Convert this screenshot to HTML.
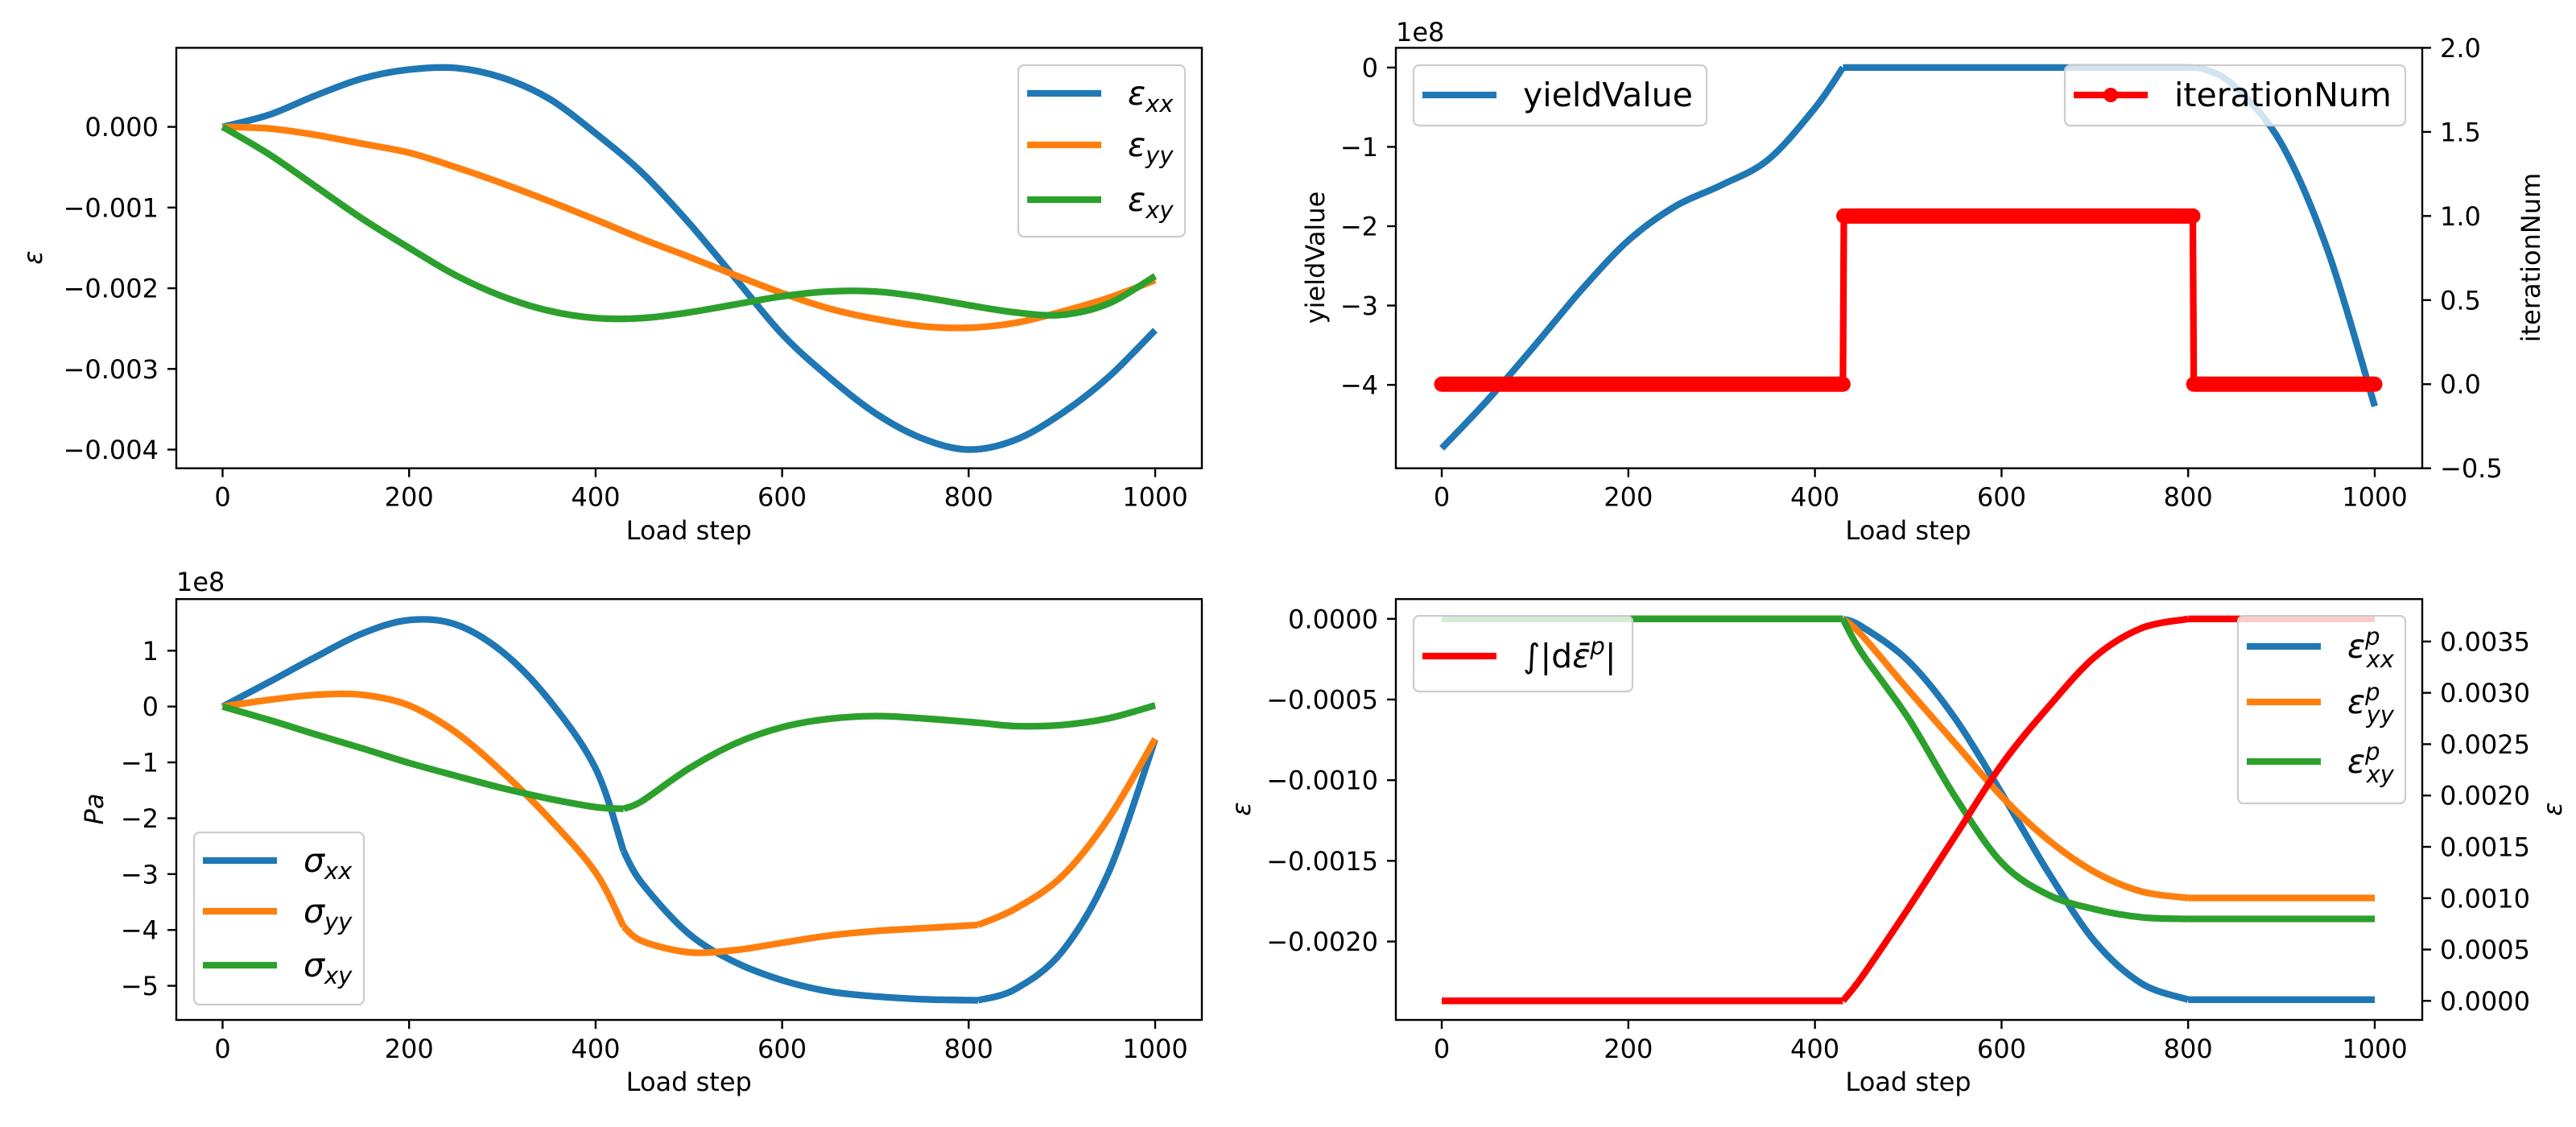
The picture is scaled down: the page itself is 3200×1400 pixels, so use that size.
<!DOCTYPE html>
<html><head><meta charset="utf-8"><style>
html,body{margin:0;padding:0;background:#fff;}
svg{display:block;font-family:"DejaVu Sans","Liberation Sans",sans-serif;}
</style></head><body>
<svg id="fig" width="3200" height="1400" viewBox="0 0 3200 1400" xmlns="http://www.w3.org/2000/svg"></svg>
<script>
// ---------- DATA ----------
const xTicks = [0,200,400,600,800,1000];
// Top-left: strain (units 1e-3)
const tlSteps = [0,50,100,150,200,250,300,350,400,450,500,550,600,650,700,750,800,850,900,950,1000];
const epsXX = [0,0.15,0.39,0.6,0.71,0.73,0.61,0.35,-0.08,-0.57,-1.19,-1.88,-2.57,-3.1,-3.55,-3.86,-4.0,-3.88,-3.55,-3.1,-2.52];
const epsYY = [0,-0.02,-0.1,-0.21,-0.32,-0.5,-0.7,-0.92,-1.15,-1.39,-1.61,-1.84,-2.06,-2.25,-2.38,-2.47,-2.49,-2.43,-2.29,-2.12,-1.9];
const epsXY = [0,-0.34,-0.74,-1.14,-1.5,-1.84,-2.1,-2.28,-2.37,-2.37,-2.3,-2.2,-2.1,-2.04,-2.04,-2.11,-2.21,-2.3,-2.33,-2.19,-1.85];
const tlTicks = [0,-1,-2,-3,-4];
const tlTickLabels = ["0.000","\u22120.001","\u22120.002","\u22120.003","\u22120.004"];
// Top-right: yield value (1e8) and iteration number
const yvSteps = [0,50,100,150,200,250,300,350,400,430,600,800,820,850,900,950,1000];
const yieldVals = [-4.8,-4.18,-3.5,-2.8,-2.18,-1.75,-1.48,-1.16,-0.51,0,0,0,-0.03,-0.24,-0.96,-2.32,-4.27];
const iterSteps = [0,430,431,805,806,1000];
const iterVals = [0,0,1,1,0,0];
const trLeftTicks = [0,-1,-2,-3,-4];
const trLeftLabels = ["0","\u22121","\u22122","\u22123","\u22124"];
const trRightTicks = [2.0,1.5,1.0,0.5,0.0,-0.5];
const trRightLabels = ["2.0","1.5","1.0","0.5","0.0","\u22120.5"];
// Bottom-left: stress (1e8 Pa)
const blSteps = [0,50,100,150,200,250,300,350,400,430,450,500,550,600,650,700,750,810,850,900,950,1000];
const sigXX = [0,0.44,0.89,1.31,1.55,1.47,0.98,0.12,-1.11,-2.59,-3.17,-4.07,-4.58,-4.9,-5.1,-5.19,-5.24,-5.26,-5.06,-4.39,-2.97,-0.59];
const sigYY = [0,0.12,0.21,0.21,0.02,-0.46,-1.17,-2.0,-2.97,-3.94,-4.2,-4.4,-4.36,-4.23,-4.1,-4.02,-3.97,-3.91,-3.62,-3.04,-2.0,-0.58];
const sigXY = [0,-0.24,-0.5,-0.75,-1.01,-1.24,-1.46,-1.65,-1.8,-1.83,-1.69,-1.11,-0.66,-0.37,-0.22,-0.17,-0.21,-0.29,-0.35,-0.33,-0.21,0.02];
const blTicks = [1,0,-1,-2,-3,-4,-5];
const blTickLabels = ["1","0","\u22121","\u22122","\u22123","\u22124","\u22125"];
// Bottom-right: plastic strain (units 1e-4)
const brSteps = [0,430,450,500,550,600,650,700,750,800,1000];
const epXX = [0,0,-0.47,-2.6,-6.15,-10.8,-15.7,-20.0,-22.6,-23.6,-23.6];
const epYY = [0,0,-1.0,-4.4,-7.7,-11.0,-13.7,-15.7,-16.9,-17.3,-17.3];
const epXY = [0,0,-2.1,-6.15,-11.0,-15.1,-17.1,-18.0,-18.5,-18.6,-18.6];
const epEq = [0,0,2.3,9.0,16.0,23.0,28.6,33.5,36.3,37.2,37.2];
const brLeftTicks = [0,-5,-10,-15,-20];
const brLeftLabels = ["0.0000","\u22120.0005","\u22120.0010","\u22120.0015","\u22120.0020"];
const brRightTicks = [0,5,10,15,20,25,30,35];
const brRightLabels = ["0.0000","0.0005","0.0010","0.0015","0.0020","0.0025","0.0030","0.0035"];

// ---------- RENDER ----------
const NS = "http://www.w3.org/2000/svg";
const fig = document.getElementById('fig');
const C = {b:"#1f77b4", o:"#ff7f0e", g:"#2ca02c", r:"#ff0000"};
const LW = 8.3, FS = 32, TL = 11, TP = 11;
function el(tag, attrs, parent){ const e=document.createElementNS(NS,tag); for(const k in attrs) e.setAttribute(k,attrs[k]); (parent||fig).appendChild(e); return e; }
function lin(d0,d1,r0,r1){ return v => r0 + (v-d0)*(r1-r0)/(d1-d0); }
function splinePath(pts){
  if(pts.length<3){ return "M"+pts.map(p=>p[0].toFixed(1)+","+p[1].toFixed(1)).join("L"); }
  let d="M"+pts[0][0].toFixed(1)+","+pts[0][1].toFixed(1);
  for(let i=0;i<pts.length-1;i++){
    const p0=pts[Math.max(0,i-1)], p1=pts[i], p2=pts[i+1], p3=pts[Math.min(pts.length-1,i+2)];
    const c1=[p1[0]+(p2[0]-p0[0])/6, p1[1]+(p2[1]-p0[1])/6];
    const c2=[p2[0]-(p3[0]-p1[0])/6, p2[1]-(p3[1]-p1[1])/6];
    d+="C"+c1[0].toFixed(1)+","+c1[1].toFixed(1)+" "+c2[0].toFixed(1)+","+c2[1].toFixed(1)+" "+p2[0].toFixed(1)+","+p2[1].toFixed(1);
  }
  return d;
}
function drawSeries(g, xs, ys, sx, sy, color, breaks, name, width){
  let seg=[]; let d="";
  for(let i=0;i<xs.length;i++){
    seg.push([sx(xs[i]), sy(ys[i])]);
    if(breaks.includes(i) && i>0 && i<xs.length-1){ d+=splinePath(seg); seg=[[sx(xs[i]), sy(ys[i])]]; }
  }
  d+=splinePath(seg);
  const p=el('path',{d:d,fill:"none",stroke:color,"stroke-width":width||LW,"stroke-linejoin":"round","stroke-linecap":"butt"},g);
  
  
  return p;
}
function axesFrame(name, x0,x1,y0,y1){
  const g=el('g',{});
  
  
  const clipId = name+"-clip";
  const cp=el('clipPath',{id:clipId},g); el('rect',{x:x0,y:y0,width:x1-x0,height:y1-y0},cp);
  const plot=el('g',{"clip-path":"url(#"+clipId+")"},g);
  return {g, plot};
}
function spines(g,x0,x1,y0,y1){
  const r=el('rect',{x:x0,y:y0,width:x1-x0,height:y1-y0,fill:"none",stroke:"#000","stroke-width":2.4},g);
  
  
}
function xAxis(g,sx,y1,labelY){
  xTicks.forEach(t=>{
    const X=sx(t);
    el('line',{x1:X,x2:X,y1:y1,y2:y1+TL,stroke:"#000","stroke-width":2.4},g);
    const tx=el('text',{x:X,y:y1+47,"font-size":FS,"text-anchor":"middle",fill:"#000"},g); tx.textContent=t;
    
    
  });
  const lab=el('text',{x:(sx(-50)+sx(1050))/2,y:labelY,"font-size":FS,"text-anchor":"middle"},g); lab.textContent="Load step";
  
  
}
function yAxis(g,sy,xEdge,ticks,labels,side){
  ticks.forEach((t,i)=>{
    const Y=sy(t);
    const dir = side==="left"?-1:1;
    el('line',{x1:xEdge,x2:xEdge+dir*TL,y1:Y,y2:Y,stroke:"#000","stroke-width":2.4},g);
    const tx=el('text',{x:xEdge+dir*(TL+TP),y:Y+11.5,"font-size":FS,"text-anchor":side==="left"?"end":"start"},g); tx.textContent=labels[i];
    
    
  });
}
function rotLabel(g,x,y,content,name,italic){
  const t=el('text',{x:x,y:y,"font-size":FS,"text-anchor":"middle",transform:"rotate(-90 "+x+" "+y+")"},g);
  if(italic) t.setAttribute('font-style','italic');
  t.innerHTML=content;
  
  
}
function legendBox(g,x,y,w,h,name){
  const lg=el('g',{},g);
  
  
  el('rect',{x:x,y:y,width:w,height:h,rx:7,fill:"#fff","fill-opacity":0.8,stroke:"#cccccc","stroke-width":2.2},lg);
  return lg;
}
function legendEntry(lg,x,y,color,html,name,marker){
  const e=el('g',{},lg);
  
  
  el('line',{x1:x,x2:x+92,y1:y,y2:y,stroke:color,"stroke-width":LW},e);
  if(marker) el('circle',{cx:x+46,cy:y,r:9,fill:color},e);
  const t=el('text',{x:x+125,y:y+14,"font-size":41},e); t.innerHTML=html;
}
const eps = (sub)=>'<tspan font-style="italic">ε</tspan><tspan font-style="italic" font-size="29" dy="9">'+sub+'</tspan>';
const sig = (sub)=>'<tspan font-style="italic">σ</tspan><tspan font-style="italic" font-size="29" dy="9">'+sub+'</tspan>';
const epsp = (sub)=>'<tspan font-style="italic">ε</tspan><tspan font-style="italic" font-size="29" dy="-16">p</tspan><tspan font-style="italic" font-size="29" dx="-17" dy="28">'+sub+'</tspan>';

// ===== Top-left =====
(function(){
  const x0=219,x1=1493,y0=59.4,y1=581.7;
  const sx=lin(0,1000,276.5,1435), sy=lin(0,-4,157.6,558.5);
  const A=axesFrame('strain-axes',x0,x1,y0,y1);
  drawSeries(A.plot,tlSteps,epsXX,sx,sy,C.b,[],'line-eps-xx');
  drawSeries(A.plot,tlSteps,epsYY,sx,sy,C.o,[],'line-eps-yy');
  drawSeries(A.plot,tlSteps,epsXY,sx,sy,C.g,[],'line-eps-xy');
  spines(A.g,x0,x1,y0,y1);
  xAxis(A.g,sx,y1,670);
  yAxis(A.g,sy,x0,tlTicks,tlTickLabels,"left");
  rotLabel(A.g,52,320,'<tspan font-style="italic">ε</tspan>','y-axis-title');
  const lg=legendBox(A.g,1265,81,207,213,'legend');
  legendEntry(lg,1276,116,C.b,eps('xx'),'legend-entry-eps-xx');
  legendEntry(lg,1276,180,C.o,eps('yy'),'legend-entry-eps-yy');
  legendEntry(lg,1276,248,C.g,eps('xy'),'legend-entry-eps-xy');
})();

// ===== Top-right =====
(function(){
  const x0=1734,x1=3009,y0=59.4,y1=581.7;
  const sx=lin(0,1000,1791,2950), sy=lin(0,-4,83.9,478.1), sy2=lin(2,-0.5,59.4,581.7);
  const A=axesFrame('yield-axes',x0,x1,y0,y1);
  drawSeries(A.plot,yvSteps,yieldVals,sx,sy,C.b,[9,11],'line-yield-value');
  const lg1=legendBox(A.g,1756,81,364,75,'legend-yield');
  legendEntry(lg1,1767,118,C.b,'yieldValue','legend-entry-yield-value');
  const ig=el('g',{},A.g);
  
  
  let d="";
  for(let i=0;i<iterSteps.length;i++){ d+=(i?"L":"M")+sx(iterSteps[i])+","+sy2(iterVals[i]); }
  el('path',{d:d,fill:"none",stroke:C.r,"stroke-width":LW},ig);
  for(let i=0;i<iterSteps.length-1;i++){
    if(iterVals[i]===iterVals[i+1]){
      el('line',{x1:sx(iterSteps[i]),x2:sx(iterSteps[i+1]),y1:sy2(iterVals[i]),y2:sy2(iterVals[i]),stroke:C.r,"stroke-width":19,"stroke-linecap":"round"},ig);
    }
  }
  spines(A.g,x0,x1,y0,y1);
  xAxis(A.g,sx,y1,670);
  yAxis(A.g,sy,x0,trLeftTicks,trLeftLabels,"left");
  yAxis(A.g,sy2,x1,trRightTicks,trRightLabels,"right");
  const e8=el('text',{x:1734,y:51,"font-size":FS},A.g); e8.textContent="1e8";
  
  
  rotLabel(A.g,1645,320,'yieldValue','y-axis-title');
  rotLabel(A.g,3155,320,'iterationNum','y2-axis-title');
  const lg2=legendBox(A.g,2565,81,423,75,'legend-iteration');
  legendEntry(lg2,2576,118,C.r,'iterationNum','legend-entry-iteration-num',true);
})();

// ===== Bottom-left =====
(function(){
  const x0=219,x1=1493,y0=744.2,y1=1267;
  const sx=lin(0,1000,276.5,1435), sy=lin(0,-5,877.7,1224.6);
  const A=axesFrame('stress-axes',x0,x1,y0,y1);
  drawSeries(A.plot,blSteps,sigXX,sx,sy,C.b,[9,17],'line-sigma-xx');
  drawSeries(A.plot,blSteps,sigYY,sx,sy,C.o,[9,17],'line-sigma-yy');
  drawSeries(A.plot,blSteps,sigXY,sx,sy,C.g,[9],'line-sigma-xy');
  spines(A.g,x0,x1,y0,y1);
  xAxis(A.g,sx,y1,1355);
  yAxis(A.g,sy,x0,blTicks,blTickLabels,"left");
  const e8=el('text',{x:219,y:734,"font-size":FS},A.g); e8.textContent="1e8";
  
  
  rotLabel(A.g,128,1005,'Pa','y-axis-title',true);
  const lg=legendBox(A.g,241,1034,211,214,'legend');
  legendEntry(lg,252,1069,C.b,sig('xx'),'legend-entry-sigma-xx');
  legendEntry(lg,252,1132,C.o,sig('yy'),'legend-entry-sigma-yy');
  legendEntry(lg,252,1199,C.g,sig('xy'),'legend-entry-sigma-xy');
})();

// ===== Bottom-right =====
(function(){
  const x0=1734,x1=3009,y0=744.2,y1=1267;
  const sx=lin(0,1000,1791,2950), sy=lin(0,-20,768.75,1169.6), sy2=lin(0,35,1243.3,796.9);
  const A=axesFrame('plastic-strain-axes',x0,x1,y0,y1);
  drawSeries(A.plot,brSteps,epXX,sx,sy,C.b,[1,9],'line-eps-p-xx');
  drawSeries(A.plot,brSteps,epYY,sx,sy,C.o,[1,9],'line-eps-p-yy');
  drawSeries(A.plot,brSteps,epXY,sx,sy,C.g,[1,9],'line-eps-p-xy');
  const lg2=legendBox(A.g,2780,765,208,233,'legend-components');
  legendEntry(lg2,2791,803,C.b,epsp('xx'),'legend-entry-eps-p-xx');
  legendEntry(lg2,2791,872,C.o,epsp('yy'),'legend-entry-eps-p-yy');
  legendEntry(lg2,2791,946,C.g,epsp('xy'),'legend-entry-eps-p-xy');
  drawSeries(A.plot,brSteps,epEq,sx,sy2,C.r,[1,9],'line-accum-plastic-strain');
  spines(A.g,x0,x1,y0,y1);
  xAxis(A.g,sx,y1,1355);
  yAxis(A.g,sy,x0,brLeftTicks,brLeftLabels,"left");
  yAxis(A.g,sy2,x1,brRightTicks,brRightLabels,"right");
  rotLabel(A.g,1553,1005,'<tspan font-style="italic">ε</tspan>','y-axis-title');
  rotLabel(A.g,3182,1005,'<tspan font-style="italic">ε</tspan>','y2-axis-title');
  const lg1=legendBox(A.g,1756,765,272,94,'legend-accumulated');
  legendEntry(lg1,1767,815,C.r,'∫|d<tspan font-style="italic">ε̄</tspan><tspan font-style="italic" font-size="29" dy="-16">p</tspan><tspan dy="16">|</tspan>','legend-entry-accum-plastic-strain');
})();
</script>
</body></html>
